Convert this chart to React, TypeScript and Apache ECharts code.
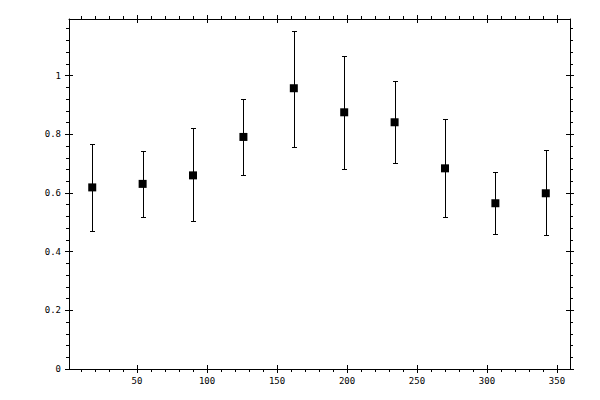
import React, { useRef, useEffect } from 'react';
import * as echarts from 'echarts';

// measured values
const xValues = [18, 54, 90, 126, 162, 198, 234, 270, 306, 342];
const means = [0.619, 0.631, 0.66, 0.791, 0.957, 0.875, 0.841, 0.684, 0.565, 0.599];
const upper = [0.768, 0.744, 0.822, 0.922, 1.153, 1.066, 0.98, 0.851, 0.671, 0.746];
const lower = [0.47, 0.517, 0.505, 0.66, 0.756, 0.681, 0.701, 0.517, 0.459, 0.456];

const xTicks = [50, 100, 150, 200, 250, 300, 350];
const yTicks = [0, 0.2, 0.4, 0.6, 0.8, 1];

const X_MIN = 1.4;
const X_MAX = 359.3;
const Y_MIN = 0;
const Y_MAX = 1.193;

const FONT = 'DejaVu Sans Mono';
const INK = '#000';

const gridRect = { left: 69, right: 30, top: 19, bottom: 31 };

const xBase = (pos: 'top' | 'bottom', gridIndex: number, outer: boolean) => ({
  type: 'value',
  gridIndex,
  position: pos,
  min: X_MIN,
  max: X_MAX,
  splitNumber: 7,
  axisLine: { show: outer, onZero: false, lineStyle: { color: INK, width: 1 } },
  axisTick: {
    show: true,
    inside: !outer,
    length: 4,
    customValues: xTicks,
    lineStyle: { color: INK, width: 1 },
  },
  minorTick: { show: outer, splitNumber: 5, length: 3, lineStyle: { color: INK, width: 1 } },
  axisLabel: {
    show: outer && pos === 'bottom',
    customValues: xTicks,
    margin: 7,
    fontFamily: FONT,
    fontSize: 9,
    color: INK,
  },
  splitLine: { show: false },
  minorSplitLine: { show: false },
});

const yBase = (pos: 'left' | 'right', gridIndex: number, outer: boolean) => ({
  type: 'value',
  gridIndex,
  position: pos,
  min: Y_MIN,
  max: Y_MAX,
  interval: 0.2,
  axisLine: { show: outer, onZero: false, lineStyle: { color: INK, width: 1 } },
  axisTick: {
    show: true,
    inside: !outer,
    length: 4,
    customValues: yTicks,
    lineStyle: { color: INK, width: 1 },
  },
  minorTick: { show: outer, splitNumber: 5, length: 3, lineStyle: { color: INK, width: 1 } },
  axisLabel: {
    show: outer && pos === 'left',
    customValues: yTicks,
    margin: 8,
    fontFamily: FONT,
    fontSize: 9,
    color: INK,
  },
  splitLine: { show: false },
  minorSplitLine: { show: false },
});

const App: React.FC = () => {
  const chartRef = useRef<HTMLDivElement>(null);

  useEffect(() => {
    if (!chartRef.current) return;
    const chart = echarts.init(chartRef.current, null, { renderer: 'svg' });

    const barData = xValues.map((x, i) => [x, lower[i], upper[i]]);
    const pointData = xValues.map((x, i) => [x, means[i]]);

    const option: any = {
      animation: false,
      backgroundColor: '#fff',
      grid: [
        { ...gridRect, containLabel: false },
        { ...gridRect, containLabel: false },
      ],
      xAxis: [
        xBase('bottom', 0, true),
        xBase('top', 0, true),
        xBase('bottom', 1, false),
        xBase('top', 1, false),
      ],
      yAxis: [
        yBase('left', 0, true),
        yBase('right', 0, true),
        yBase('left', 1, false),
        yBase('right', 1, false),
      ],
      series: [
        {
          type: 'custom',
          xAxisIndex: 0,
          yAxisIndex: 0,
          data: barData,
          renderItem: (_params: any, api: any) => {
            const top = api.coord([api.value(0), api.value(2)]);
            const bot = api.coord([api.value(0), api.value(1)]);
            const x = Math.round(top[0]) + 0.5;
            const y1 = Math.round(top[1]) + 0.5;
            const y2 = Math.round(bot[1]) + 0.5;
            const cap = 2.5;
            const style = { stroke: INK, lineWidth: 1 };
            return {
              type: 'group',
              children: [
                { type: 'line', shape: { x1: x, y1, x2: x, y2 }, style },
                { type: 'line', shape: { x1: x - cap, y1, x2: x + cap, y2: y1 }, style },
                { type: 'line', shape: { x1: x - cap, y1: y2, x2: x + cap, y2 }, style },
              ],
            };
          },
          z: 2,
        },
        {
          type: 'scatter',
          xAxisIndex: 0,
          yAxisIndex: 0,
          data: pointData,
          symbol: 'rect',
          symbolSize: 8,
          itemStyle: { color: INK, opacity: 1 },
          emphasis: { disabled: true },
          z: 3,
        },
      ],
    };

    chart.setOption(option);
    return () => {
      chart.dispose();
    };
  }, []);

  return (
    <div
      ref={chartRef}
      style={{ position: 'fixed', left: 0, top: 0, width: 600, height: 400, background: '#fff' }}
    />
  );
};

export default App;
